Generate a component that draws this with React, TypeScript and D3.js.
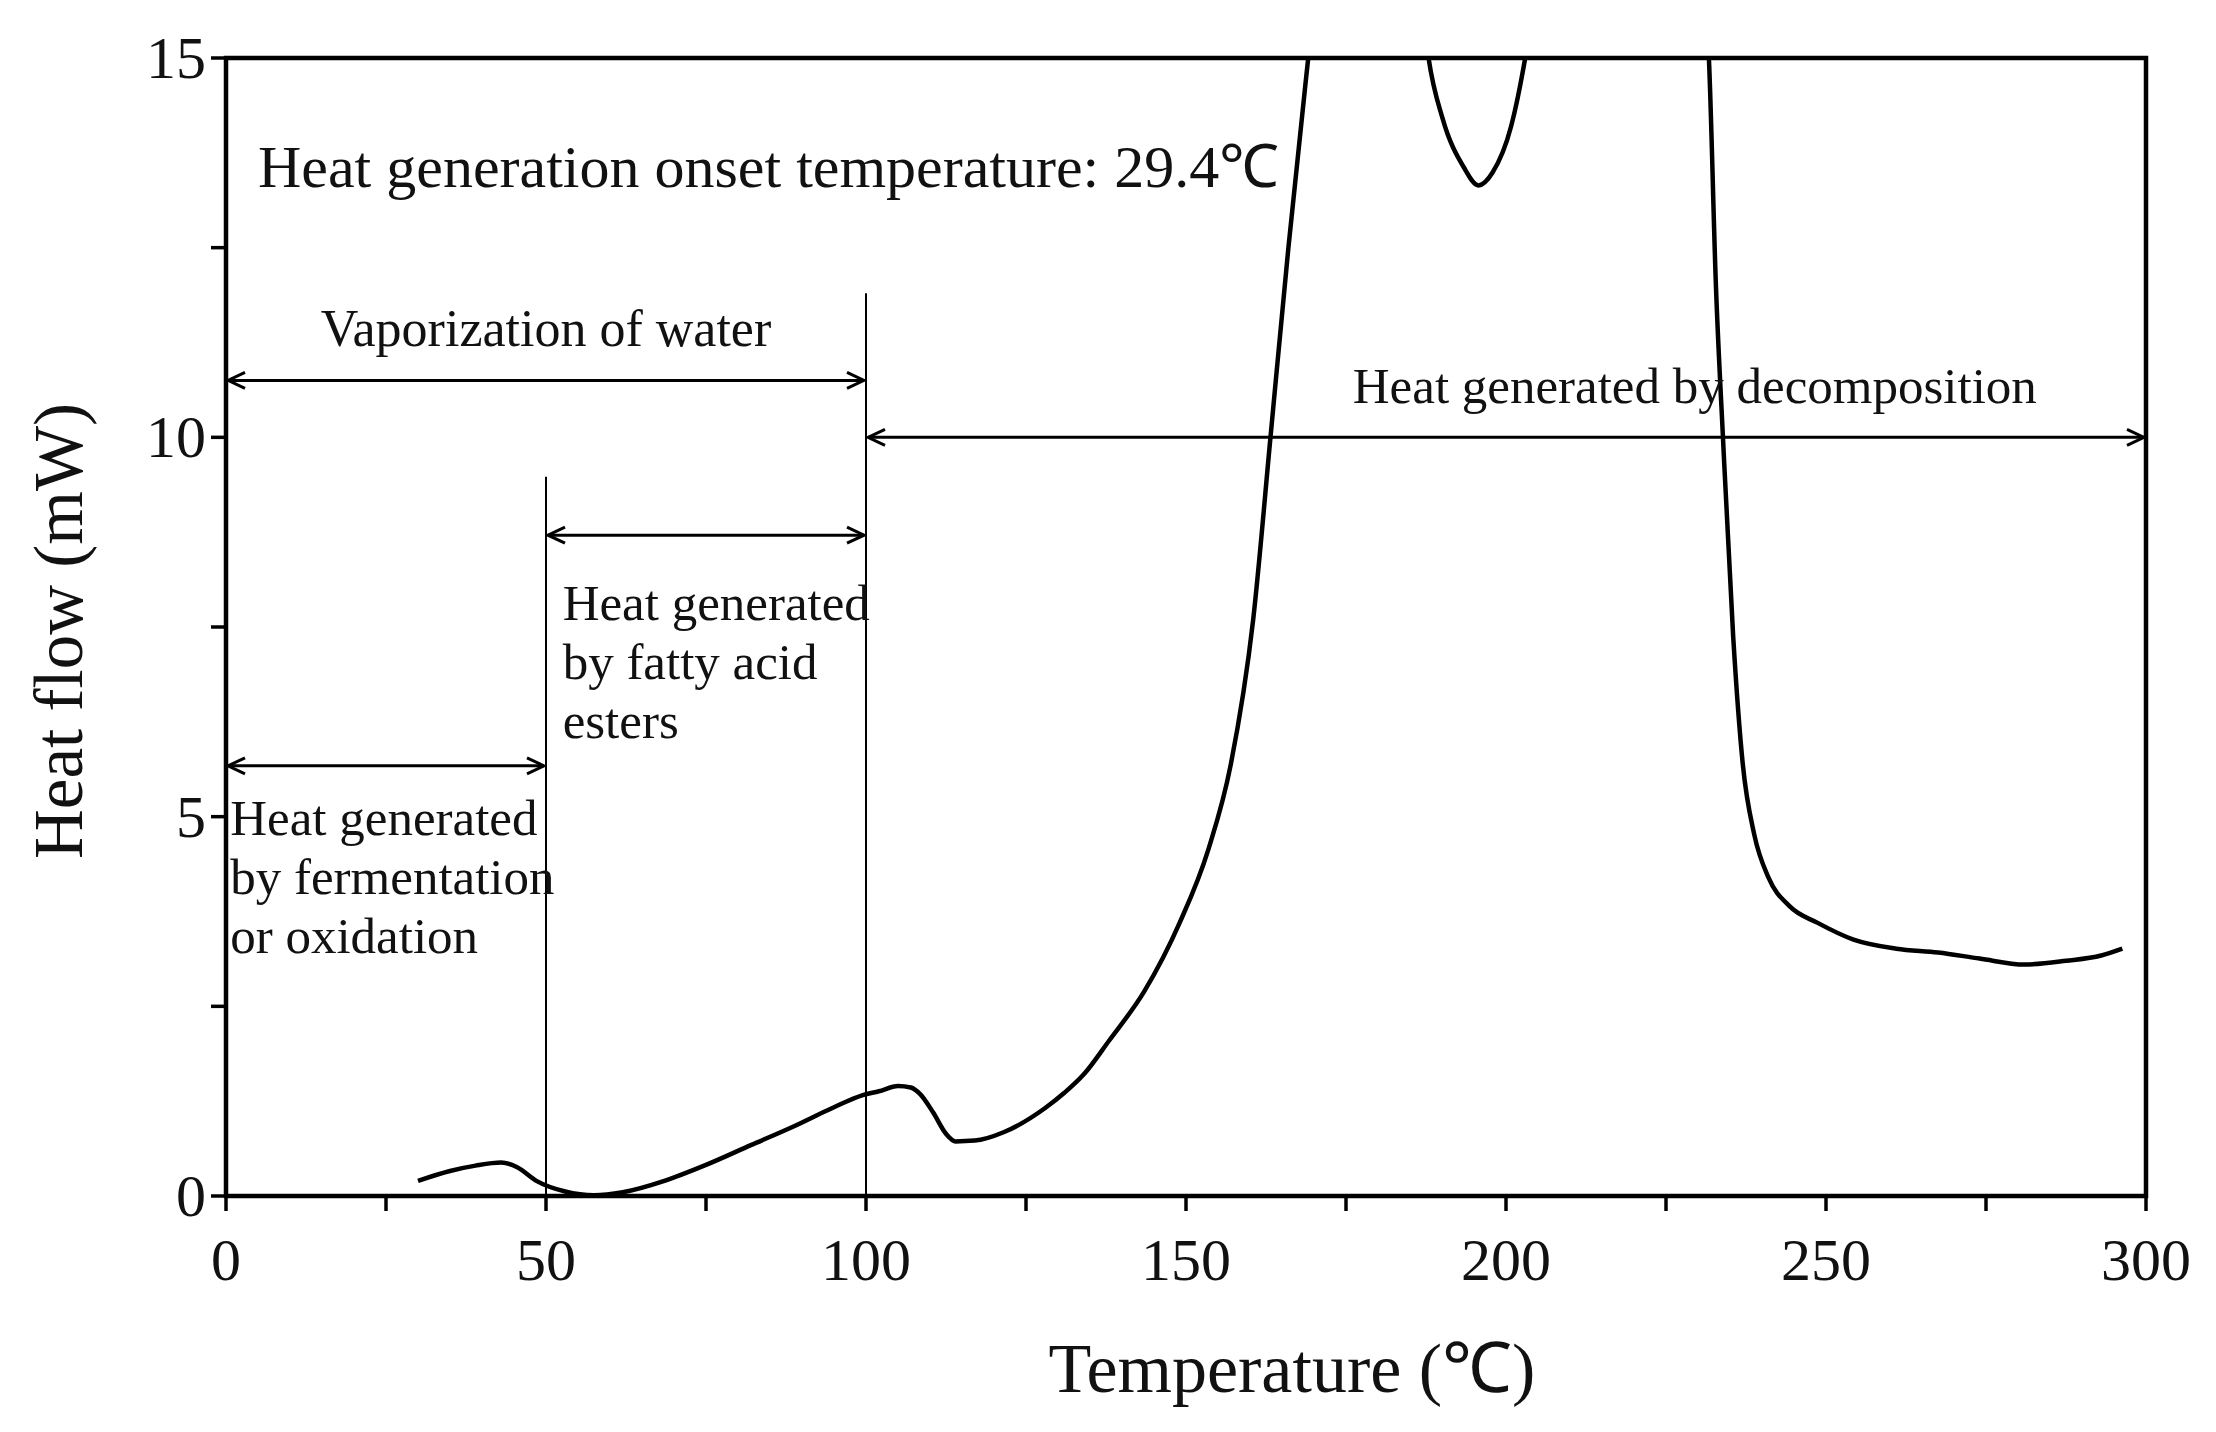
import { useEffect, useRef } from "react";
import * as d3 from "d3";

// Heat flow curve (temperature in °C, heat flow in mW)
const temps = [
  30, 35, 39, 43, 45.5, 48.5, 53, 57.5, 62, 68.5, 75, 82, 88.5, 95, 99.5, 102, 105, 107, 108.5,
  110.5, 112.5, 114, 117, 121.5, 128, 131, 134, 138, 143.5, 149, 153.5, 157, 160.5, 163.2, 166,
  169.1, 173, 180, 185, 187.9, 190.1, 193.4, 195.7, 197.9, 200.8, 203, 207, 215, 225, 229, 231.7,
  232.8, 233.9, 235.5, 237, 238.8, 241, 244.3, 248.7, 254.3, 261, 267.5, 274, 281, 287.5, 293, 296.3,
];
const heatFlow = [
  0.2, 0.33, 0.4, 0.44, 0.38, 0.2, 0.06, 0.01, 0.05, 0.2, 0.41, 0.67, 0.91, 1.17, 1.33, 1.38, 1.45,
  1.43, 1.34, 1.1, 0.82, 0.72, 0.73, 0.84, 1.16, 1.36, 1.6, 2.05, 2.7, 3.6, 4.57, 5.69, 7.6, 10.0,
  12.5, 15.0, 18.0, 19.5, 17.5, 15.0, 14.2, 13.56, 13.32, 13.49, 14.1, 15.0, 17.5, 19.5, 19.5, 17.5,
  15.0, 12.0, 10.0, 7.37, 5.69, 4.76, 4.2, 3.82, 3.6, 3.38, 3.26, 3.21, 3.13, 3.05, 3.1, 3.17, 3.26,
];

const xTicks = [0, 50, 100, 150, 200, 250, 300];
const xMinorTicks = [25, 75, 125, 175, 225, 275];
const yTicks = [0, 5, 10, 15];
const yMinorTicks = [2.5, 7.5, 12.5];

// Region boundaries (vertical lines) and range arrows
const dividers = [
  { x: 50, top: 9.48 },
  { x: 100, top: 11.9 },
];
const ranges = [
  { from: 0, to: 100, y: 10.75 },
  { from: 100, to: 300, y: 10.0 },
  { from: 50, to: 100, y: 8.71 },
  { from: 0, to: 50, y: 5.67 },
];
const labels = [
  { x: 5.0, y: 13.3, lines: ["Heat generation onset temperature: 29.4℃"], size: 60, anchor: "start" },
  { x: 50, y: 11.2, lines: ["Vaporization of water"], size: 52, anchor: "middle" },
  { x: 229.5, y: 10.45, lines: ["Heat generated by decomposition"], size: 51, anchor: "middle" },
  { x: 52.6, y: 7.59, lines: ["Heat generated", "by fatty acid", "esters"], size: 51, anchor: "start" },
  { x: 0.66, y: 4.76, lines: ["Heat generated", "by fermentation", "or oxidation"], size: 51, anchor: "start" },
];

const W = 2216;
const H = 1432;
const PLOT = { left: 226, right: 2146, top: 58, bottom: 1196 };
const FONT = "'Liberation Serif', 'Times New Roman', serif";

export default function App() {
  const svgRef = useRef<SVGSVGElement>(null);

  useEffect(() => {
    document.body.style.margin = "0";
    const svg = svgRef.current;
    if (!svg) return;
    d3.select(svg).selectAll("*").remove();

    const root = d3.select(svg).attr("width", W).attr("height", H);

    const xScale = d3.scaleLinear().domain([0, 300]).range([PLOT.left, PLOT.right]);
    const yScale = d3.scaleLinear().domain([0, 15]).range([PLOT.bottom, PLOT.top]);

    const defs = root.append("defs");

    // Clip for the curve
    defs
      .append("clipPath")
      .attr("id", "plot-clip")
      .append("rect")
      .attr("x", PLOT.left)
      .attr("y", PLOT.top)
      .attr("width", PLOT.right - PLOT.left)
      .attr("height", PLOT.bottom - PLOT.top);

    // Open arrowheads
    ["start", "end"].forEach((kind) => {
      defs
        .append("marker")
        .attr("id", `arrow-${kind}`)
        .attr("viewBox", "0 0 20 20")
        .attr("refX", kind === "end" ? 19 : 1)
        .attr("refY", 10)
        .attr("markerWidth", 20)
        .attr("markerHeight", 20)
        .attr("markerUnits", "userSpaceOnUse")
        .attr("orient", "auto")
        .append("path")
        .attr("d", kind === "end" ? "M2,2 L19,10 L2,18" : "M18,2 L1,10 L18,18")
        .attr("fill", "none")
        .attr("stroke", "#000")
        .attr("stroke-width", 3);
    });

    // Vertical dividers
    root
      .append("g")
      .selectAll("line")
      .data(dividers)
      .join("line")
      .attr("x1", (d) => xScale(d.x))
      .attr("x2", (d) => xScale(d.x))
      .attr("y1", (d) => yScale(d.top))
      .attr("y2", PLOT.bottom)
      .attr("stroke", "#000")
      .attr("stroke-width", 2);

    // Range arrows
    root
      .append("g")
      .selectAll("line")
      .data(ranges)
      .join("line")
      .attr("x1", (d) => xScale(d.from) + 2)
      .attr("x2", (d) => xScale(d.to) - 2)
      .attr("y1", (d) => yScale(d.y))
      .attr("y2", (d) => yScale(d.y))
      .attr("stroke", "#000")
      .attr("stroke-width", 3)
      .attr("marker-start", "url(#arrow-start)")
      .attr("marker-end", "url(#arrow-end)");

    // Curve
    const points = temps.map((t, i) => ({ x: t, y: heatFlow[i] }));
    const line = d3
      .line<{ x: number; y: number }>()
      .x((d) => xScale(d.x))
      .y((d) => yScale(d.y))
      .curve(d3.curveMonotoneX);

    root
      .append("path")
      .datum(points)
      .attr("clip-path", "url(#plot-clip)")
      .attr("fill", "none")
      .attr("stroke", "#000")
      .attr("stroke-width", 4.5)
      .attr("stroke-linejoin", "round")
      .attr("d", line);

    // Frame
    root
      .append("rect")
      .attr("x", PLOT.left)
      .attr("y", PLOT.top)
      .attr("width", PLOT.right - PLOT.left)
      .attr("height", PLOT.bottom - PLOT.top)
      .attr("fill", "none")
      .attr("stroke", "#000")
      .attr("stroke-width", 4.5);

    // Ticks
    const tickLen = 15;
    root
      .append("g")
      .selectAll("line")
      .data([...xTicks, ...xMinorTicks])
      .join("line")
      .attr("x1", (d) => xScale(d))
      .attr("x2", (d) => xScale(d))
      .attr("y1", PLOT.bottom)
      .attr("y2", PLOT.bottom + tickLen)
      .attr("stroke", "#000")
      .attr("stroke-width", 3.5);

    root
      .append("g")
      .selectAll("line")
      .data([...yTicks, ...yMinorTicks])
      .join("line")
      .attr("x1", PLOT.left - tickLen)
      .attr("x2", PLOT.left)
      .attr("y1", (d) => yScale(d))
      .attr("y2", (d) => yScale(d))
      .attr("stroke", "#000")
      .attr("stroke-width", 3.5);

    // Tick labels
    root
      .append("g")
      .selectAll("text")
      .data(xTicks)
      .join("text")
      .attr("x", (d) => xScale(d))
      .attr("y", PLOT.bottom + 84)
      .attr("text-anchor", "middle")
      .attr("font-family", FONT)
      .attr("font-size", 60)
      .attr("fill", "#111")
      .text((d) => d);

    root
      .append("g")
      .selectAll("text")
      .data(yTicks)
      .join("text")
      .attr("x", PLOT.left - 20)
      .attr("y", (d) => yScale(d) + 20)
      .attr("text-anchor", "end")
      .attr("font-family", FONT)
      .attr("font-size", 60)
      .attr("fill", "#111")
      .text((d) => d);

    // Axis titles
    root
      .append("text")
      .attr("x", 1292)
      .attr("y", 1392)
      .attr("text-anchor", "middle")
      .attr("font-family", FONT)
      .attr("font-size", 70)
      .attr("fill", "#111")
      .text("Temperature (℃)");

    root
      .append("text")
      .attr("transform", `translate(82,${(PLOT.top + PLOT.bottom) / 2 + 4}) rotate(-90)`)
      .attr("text-anchor", "middle")
      .attr("font-family", FONT)
      .attr("font-size", 69)
      .attr("fill", "#111")
      .text("Heat flow (mW)");

    // Annotations
    labels.forEach((lab) => {
      const t = root
        .append("text")
        .attr("x", xScale(lab.x))
        .attr("y", yScale(lab.y))
        .attr("text-anchor", lab.anchor)
        .attr("font-family", FONT)
        .attr("font-size", lab.size)
        .attr("fill", "#111");
      lab.lines.forEach((s, i) => {
        t.append("tspan")
          .attr("x", xScale(lab.x))
          .attr("dy", i === 0 ? 0 : 59)
          .text(s);
      });
    });
  }, []);

  return <svg ref={svgRef} style={{ display: "block", background: "#fff" }} />;
}
